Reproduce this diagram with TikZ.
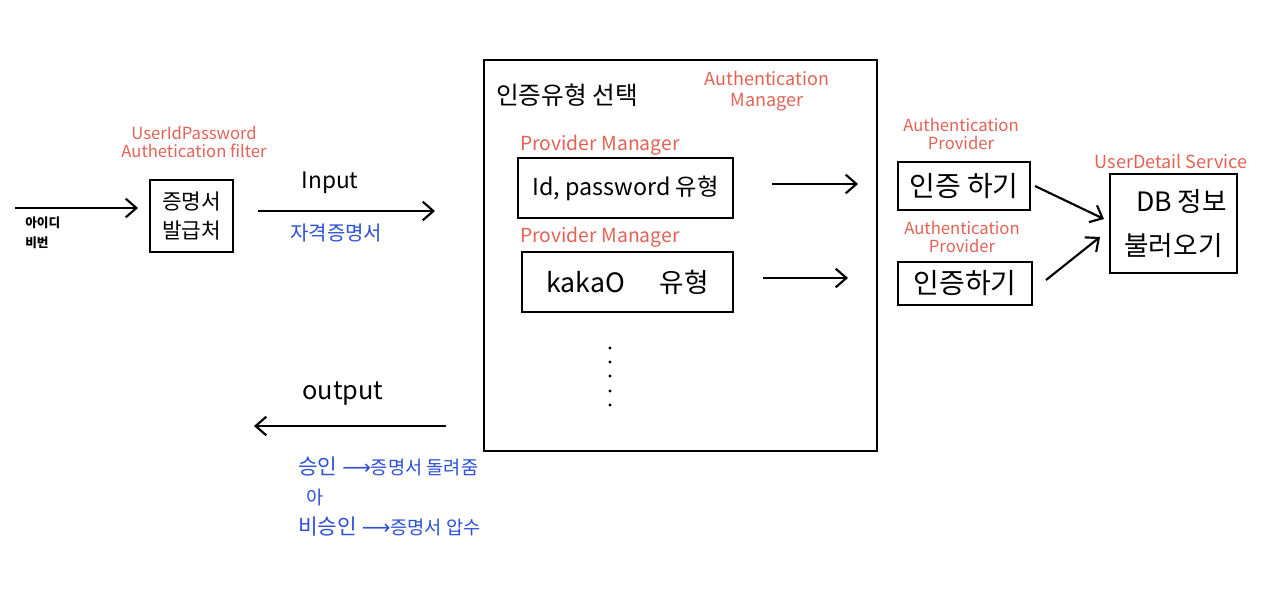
\documentclass[tikz,border=0pt]{standalone}
\usepackage{fontspec}
\newfontfamily\kr{Noto Sans CJK KR}
\newfontfamily\sym{DejaVu Sans}
\usetikzlibrary{arrows.meta}
\definecolor{lblred}{RGB}{226,98,86}
\definecolor{lblblue}{RGB}{45,80,215}
\tikzset{
  box/.style={draw=black, line width=2.2pt, inner sep=0pt, align=center, font=\kr\fontsize{16}{22}\selectfont},
  redlbl/.style={text=lblred, font=\kr\fontsize{12.5}{14}\selectfont, inner sep=0pt, align=center},
  bluelbl/.style={text=lblblue, inner sep=0pt, anchor=west},
  blacklbl/.style={text=black, inner sep=0pt},
  conn/.style={line width=1.6pt, -{Straight Barb[length=8pt, width=14pt, line width=1.6pt]}},
  dotmark/.style={circle, fill=black, inner sep=0pt, minimum size=2.4pt}
}
\begin{document}
\begin{tikzpicture}[x=0.75pt,y=-0.75pt]
\useasboundingbox[fill=white] (0,0) rectangle (1266,590);

% left input
\coordinate (inA) at (15,208);
\coordinate (inB) at (138,208);
\node[blacklbl, font=\kr\bfseries\fontsize{9.5}{15}\selectfont, align=left, anchor=north west] (idpw) at (25,217) {아이디\\비번};
\draw[conn] (inA) -- (inB);

% filter
\node[redlbl] (filtlbl) at (194,142) {UserIdPassword\\Authetication filter};
\node[box, minimum width=62.25pt, minimum height=54pt] (fil) at (191.5,216) {증명서\\발급처};

% input arrow
\coordinate (ipA) at (258,211);
\coordinate (ipB) at (435,211);
\draw[conn] (ipA) -- (ipB);
\node[blacklbl, font=\kr\fontsize{17}{20}\selectfont] (inputlbl) at (330,183) {Input};
\node[bluelbl, font=\kr\fontsize{15}{18}\selectfont] (cred) at (290,233) {자격증명서};

% manager box
\node[box, minimum width=294.75pt, minimum height=293.25pt] (mgr) at (680.5,255.5) {};
\node[blacklbl, font=\kr\fontsize{18.5}{22}\selectfont, anchor=west] (seltitle) at (496,95) {인증유형 선택};
\node[redlbl, font=\kr\fontsize{13.5}{16}\selectfont] (mgrlbl) at (767,91) {Authentication\\Manager};

\node[redlbl, font=\kr\fontsize{14.5}{16}\selectfont] (pm1) at (600,145) {Provider Manager};
\node[box, minimum width=161.25pt, minimum height=45pt, font=\kr\fontsize{17.5}{22}\selectfont] (p1) at (625.5,188) {Id, password 유형};
\node[redlbl, font=\kr\fontsize{14.5}{16}\selectfont] (pm2) at (600,237) {Provider Manager};
\node[box, minimum width=158.25pt, minimum height=45pt, font=\kr\fontsize{20}{22}\selectfont] (p2) at (627.5,282) {kakaO\hspace{26pt}유형};

\foreach \i/\yy in {1/348,2/362,3/376,4/391,5/405}{
  \node[dotmark] (dot\i) at (610,\yy) {};
}

% arrows to providers
\coordinate (a1A) at (772,184);
\coordinate (a1B) at (858,184);
\coordinate (a2A) at (763,278);
\coordinate (a2B) at (848,278);
\draw[conn] (a1A) -- (a1B);
\draw[conn] (a2A) -- (a2B);

% providers
\node[redlbl] (ap1) at (961,134) {Authentication\\Provider};
\node[box, minimum width=99pt, minimum height=36pt, font=\kr\fontsize{21}{22}\selectfont] (prov1) at (964,186) {인증 하기};
\node[redlbl] (ap2) at (962,237) {Authentication\\Provider};
\node[box, minimum width=100.5pt, minimum height=32.25pt, font=\kr\fontsize{21}{22}\selectfont] (prov2) at (965,283.5) {인증하기};

% user detail service
\node[redlbl, font=\kr\fontsize{13.5}{16}\selectfont] (udslbl) at (1171,161) {UserDetail Service};
\node[box, minimum width=95.25pt, minimum height=74.25pt, font=\kr\fontsize{20}{33}\selectfont] (db) at (1173.5,223.5) {\hspace*{12pt}DB 정보\\불러오기};

\coordinate (b1A) at (1035,186);
\coordinate (b2A) at (1046,280);
\draw[conn] (b1A) -- (1104,219);
\draw[conn] (b2A) -- (1100,237);

% output
\coordinate (opA) at (446,426);
\coordinate (opB) at (254,426);
\draw[conn] (opA) -- (opB);
\node[blacklbl, font=\kr\fontsize{19}{22}\selectfont] (outlbl) at (343,394) {output};

\node[bluelbl, font=\kr\fontsize{16}{18}\selectfont] (ok) at (298,466) {승인 {\sym\fontsize{15}{16}\selectfont ⟶}{\fontsize{14}{14}\selectfont 증명서 돌려줌}};
\node[bluelbl, font=\kr\fontsize{14}{16}\selectfont] (or) at (306,497) {아};
\node[bluelbl, font=\kr\fontsize{16}{18}\selectfont] (no) at (298,527) {비승인 {\sym\fontsize{15}{16}\selectfont ⟶}{\fontsize{14}{14}\selectfont 증명서 압수}};
\end{tikzpicture}
\end{document}
